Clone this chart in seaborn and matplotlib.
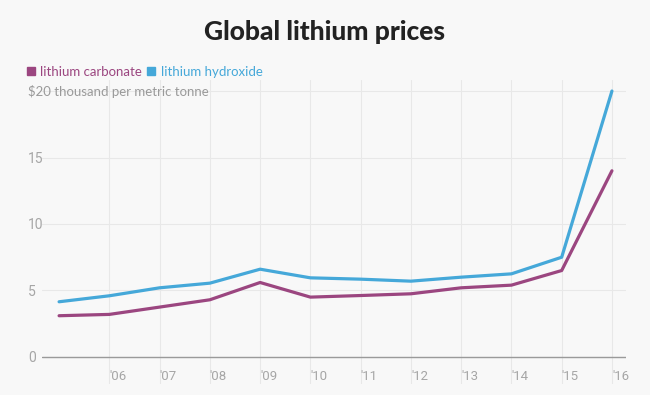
import numpy as np
import pandas as pd
import matplotlib
matplotlib.use('Agg')
from matplotlib import pyplot as plt
from matplotlib.lines import Line2D
import seaborn as sns

years = [2005, 2006, 2007, 2008, 2009, 2010, 2011, 2012, 2013, 2014, 2015, 2016]
carbonate = [3.1, 3.2, 3.75, 4.3, 5.6, 4.5, 4.62, 4.75, 5.2, 5.4, 6.5, 14.0]
hydroxide = [4.15, 4.6, 5.2, 5.55, 6.6, 5.95, 5.85, 5.7, 6.0, 6.25, 7.5, 20.0]
series_names = ['lithium carbonate', 'lithium hydroxide']
x_ticks = [2006, 2007, 2008, 2009, 2010, 2011, 2012, 2013, 2014, 2015, 2016]
x_ticklabels = ["'06", "'07", "'08", "'09", "'10", "'11", "'12", "'13", "'14", "'15", "'16"]
y_ticks = [0, 5, 10, 15, 20]
y_ticklabels = ['0', '5', '10', '15', '']

df = pd.DataFrame({
    'year': years * 2,
    'price': carbonate + hydroxide,
    'series': [series_names[0]] * len(years) + [series_names[1]] * len(years),
})

bg = '#f8f8f8'
colors = {series_names[0]: '#9b4680', series_names[1]: '#45a8d9'}

sns.set_style('white')
plt.rcParams['font.family'] = ['Lato', 'DejaVu Sans']

fig = plt.figure(figsize=(6.5, 3.95), dpi=100, facecolor=bg)
ax = fig.add_axes([0.0646, 0.029, 0.8985, 0.7675])
ax.set_facecolor(bg)

sns.lineplot(data=df, x='year', y='price', hue='series', palette=colors,
             linewidth=2.3, legend=False, ax=ax)

ax.set_xlim(2004.66, 2016.28)
ax.set_ylim(-2, 20.8)
for s in ax.spines.values():
    s.set_visible(False)

ax.set_xticks(x_ticks)
ax.set_xticklabels(x_ticklabels, fontfamily='Roboto', fontsize=9.5, color='#a6a6a6', ha='left')
ax.set_yticks(y_ticks)
ax.set_yticklabels(y_ticklabels, fontfamily='Roboto', fontsize=10, color='#a6a6a6', ha='left')
ax.tick_params(axis='x', length=0, pad=-9.5)
ax.tick_params(axis='y', length=0, pad=10)
ax.grid(True, color='#e8e8e8', linewidth=0.8)
ax.set_axisbelow(True)
ax.axhline(0, color='#9a9a9a', linewidth=1.0, zorder=1.5)
ax.set_xlabel('')
ax.set_ylabel('')

ax.text(-0.024, 20, '$20 thousand per metric tonne', transform=ax.get_yaxis_transform(),
        ha='left', va='center', fontsize=9.5, color='#9a9a9a')

fig.text(0.5, 1 - 32 / 395, 'Global lithium prices', ha='center', va='center',
         fontsize=19, fontweight='black', color='#222222')

handles = [Line2D([], [], marker='s', linestyle='', markersize=5.5,
                  markerfacecolor=colors[n], markeredgecolor=colors[n]) for n in series_names]
leg = fig.legend(handles, series_names, loc='center left', bbox_to_anchor=(27 / 650, 1 - 72 / 395),
                 ncol=2, frameon=False, handlelength=0.6, handletextpad=0.4, columnspacing=0.4,
                 fontsize=9.5, borderaxespad=0, borderpad=0)
for t, n in zip(leg.get_texts(), series_names):
    t.set_color(colors[n])

fig.savefig('out.png', dpi=100, facecolor=bg)
